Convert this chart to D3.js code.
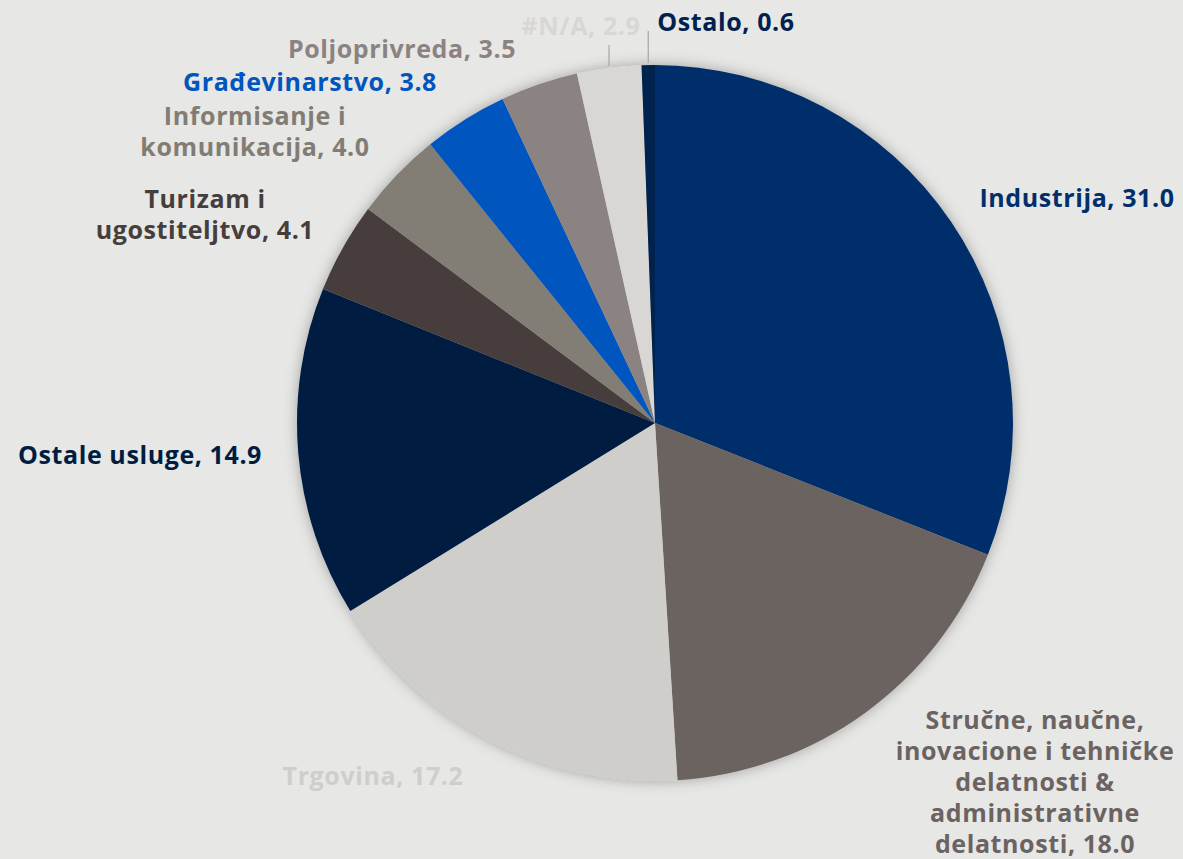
<!DOCTYPE html>
<html lang="sr">
  <head>
    <meta charset="utf-8">
    <title>Struktura po delatnostima</title>
    <style>
      html, body {
          margin: 0;
          padding: 0;
          background: #e7e7e5;
      }
      svg {
          display: block;
      }
      text {
          font-family: "Open Sans", Lato, sans-serif;
          font-weight: bold;
          letter-spacing: 0.6px;
      }
    </style>
    <script src="https://d3js.org/d3.v7.min.js"></script>
  </head>
  <body>
    <div class="chart"></div>
    <script>

    // data
    const categories = ["Industrija", "Stručne, naučne, inovacione i tehničke delatnosti & administrativne delatnosti",
      "Trgovina", "Ostale usluge", "Turizam i ugostiteljtvo", "Informisanje i komunikacija",
      "Građevinarstvo", "Poljoprivreda", "#N/A", "Ostalo"]
    const values = [31.0, 18.0, 17.2, 14.9, 4.1, 4.0, 3.8, 3.5, 2.9, 0.6]

    // how each label breaks into lines
    const labelLines = [
      ["Industrija, 31.0"],
      ["Stručne, naučne,", "inovacione i tehničke", "delatnosti &", "administrativne", "delatnosti, 18.0"],
      ["Trgovina, 17.2"],
      ["Ostale usluge, 14.9"],
      ["Turizam i", "ugostiteljtvo, 4.1"],
      ["Informisanje i", "komunikacija, 4.0"],
      ["Građevinarstvo, 3.8"],
      ["Poljoprivreda, 3.5"],
      ["#N/A, 2.9"],
      ["Ostalo, 0.6"]
    ]

    const colors = ["#002f6b", "#6b6361", "#d0cecb", "#001d41", "#463e3c",
      "#827d74", "#0055bf", "#8b8381", "#d9d7d4", "#00214f"]

    // label centre, offset from the pie centre (layout only)
    const labelOffset = [[422, -225], [380, 359], [-282, 353], [-515, 32], [-450, -208],
      [-400, -291], [-345, -341], [-253, -374], [-74, -397], [71, -401]]

    const width = 1183, height = 859
    const cx = 655, cy = 423, radius = 358
    const lineH = 31

    const svg = d3.select(".chart")
      .append("svg")
      .attr("width", width)
      .attr("height", height)

    const defs = svg.append("defs")
    const shadow = defs.append("filter")
      .attr("id", "shadow")
      .attr("x", "-20%").attr("y", "-20%")
      .attr("width", "140%").attr("height", "140%")
    shadow.append("feDropShadow")
      .attr("dx", 0).attr("dy", 0)
      .attr("stdDeviation", 7)
      .attr("flood-color", "#000")
      .attr("flood-opacity", 0.3)

    const data = categories.map((c, i) => ({ name: c, value: values[i], i: i }))

    const pie = d3.pie()
      .value(d => d.value)
      .sort(null)

    const arc = d3.arc()
      .innerRadius(0)
      .outerRadius(radius)

    const g = svg.append("g")
      .attr("transform", `translate(${cx},${cy})`)

    const arcs = pie(data)

    g.append("g")
      .attr("filter", "url(#shadow)")
      .selectAll("path")
      .data(arcs)
      .join("path")
      .attr("d", arc)
      .attr("fill", d => colors[d.data.i])

    // leader lines for the two small slices at the top
    const leaders = [8, 9]
    const leaderTop = { 8: -378, 9: -392 }
    leaders.forEach(i => {
      const a = arcs[i]
      const mid = (a.startAngle + a.endAngle) / 2
      const x0 = Math.sin(mid) * radius
      const y0 = -Math.cos(mid) * radius
      g.append("line")
        .attr("x1", x0).attr("y1", y0 - 2)
        .attr("x2", x0).attr("y2", leaderTop[i])
        .attr("stroke", "#a6a6a6")
        .attr("stroke-width", 1.2)
    })

    // labels
    const labels = g.append("g")
      .selectAll("text")
      .data(arcs)
      .join("text")
      .attr("text-anchor", "middle")
      .attr("fill", d => colors[d.data.i])
      .style("font-size", "25px")
      .attr("transform", d => {
        const o = labelOffset[d.data.i]
        const n = labelLines[d.data.i].length
        return `translate(${o[0]},${o[1] - (n - 1) * lineH / 2})`
      })

    labels.selectAll("tspan")
      .data(d => labelLines[d.data.i])
      .join("tspan")
      .attr("x", 0)
      .attr("y", (d, j) => j * lineH)
      .attr("dy", "0.35em")
      .text(d => d)

    </script>
  </body>
</html>
